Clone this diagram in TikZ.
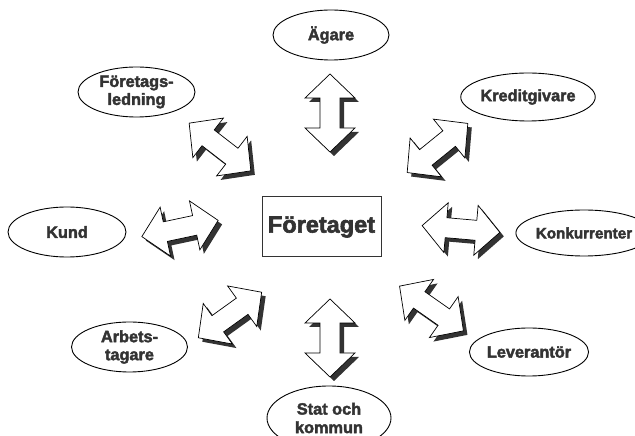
\documentclass[tikz,border=0pt]{standalone}
\usepackage{fontspec}
\setmainfont{Liberation Sans}[BoldFeatures={FakeBold=2.5}]
\usetikzlibrary{shapes.geometric}
\definecolor{txtgray}{HTML}{333333}
\tikzset{
  x=1pt, y=1pt,
  ell/.style={ellipse, draw=black, line width=0.9pt, inner sep=0pt, align=center,
    text=txtgray, font=\fontsize{16.3}{18}\selectfont\bfseries},
  mainbox/.style={rectangle, draw=txtgray, line width=1pt, inner sep=0pt,
    minimum width=119, minimum height=60, text=txtgray,
    font=\fontsize{23.5}{24}\selectfont\bfseries},
  arrowshadow/.style={fill=txtgray},
  arrowline/.style={draw=black, fill=white, line width=0.7pt, line join=miter},
  dblarrow/.pic={
    \fill[arrowshadow, shift={(4,-4)}, rotate=#1]
      (-39,0) -- (-15,25) -- (-15,10) -- (15,10) -- (15,25) -- (39,0)
      -- (15,-25) -- (15,-10) -- (-15,-10) -- (-15,-25) -- cycle;
    \path[arrowline, rotate=#1]
      (-39,0) -- (-15,25) -- (-15,10) -- (15,10) -- (15,25) -- (39,0)
      -- (15,-25) -- (15,-10) -- (-15,-10) -- (-15,-25) -- cycle;
  }
}
\begin{document}
\begin{tikzpicture}
\useasboundingbox (0,0) rectangle (635,436);
\clip (0,0) rectangle (635,436);

% central box
\node[mainbox] (ftg) at (321.5,209) {Företaget};

% surrounding stakeholders
\node[ell, minimum width=116, minimum height=50] (agare) at (331,401) {Ägare};
\node[ell, minimum width=117, minimum height=50] (ledning) at (136.5,344) {Företags-\\ledning};
\node[ell, minimum width=132, minimum height=48] (kredit) at (528,339) {Kreditgivare};
\node[ell, minimum width=118, minimum height=50] (kund) at (67,204) {Kund};
\node[ell, minimum width=116, minimum height=46, font=\fontsize{15.2}{18}\selectfont\bfseries] (konk) at (584,203) {Konkurrenter};
\node[ell, minimum width=116, minimum height=50] (arbet) at (129.5,89) {Arbets-\\tagare};
\node[ell, minimum width=118, minimum height=48] (lev) at (529,84) {Leverantör};
\node[ell, minimum width=124, minimum height=64, font=\fontsize{16.3}{18.5}\selectfont\bfseries] (stat) at (329,18) {Stat och\\kommun};

% double arrows with shadows
\pic (a1) at (330,323) {dblarrow=90};
\pic (a2) at (330,98) {dblarrow=90};
\pic (a3) at (180,207.5) {dblarrow=12};
\pic (a4) at (461,207) {dblarrow=-5};
\pic (a5) at (220,289) {dblarrow=-37.7};
\pic (a6) at (437.5,288) {dblarrow=39};
\pic (a7) at (230,121) {dblarrow=35.7};
\pic (a8) at (431.5,127.5) {dblarrow=-35};
\end{tikzpicture}
\end{document}
